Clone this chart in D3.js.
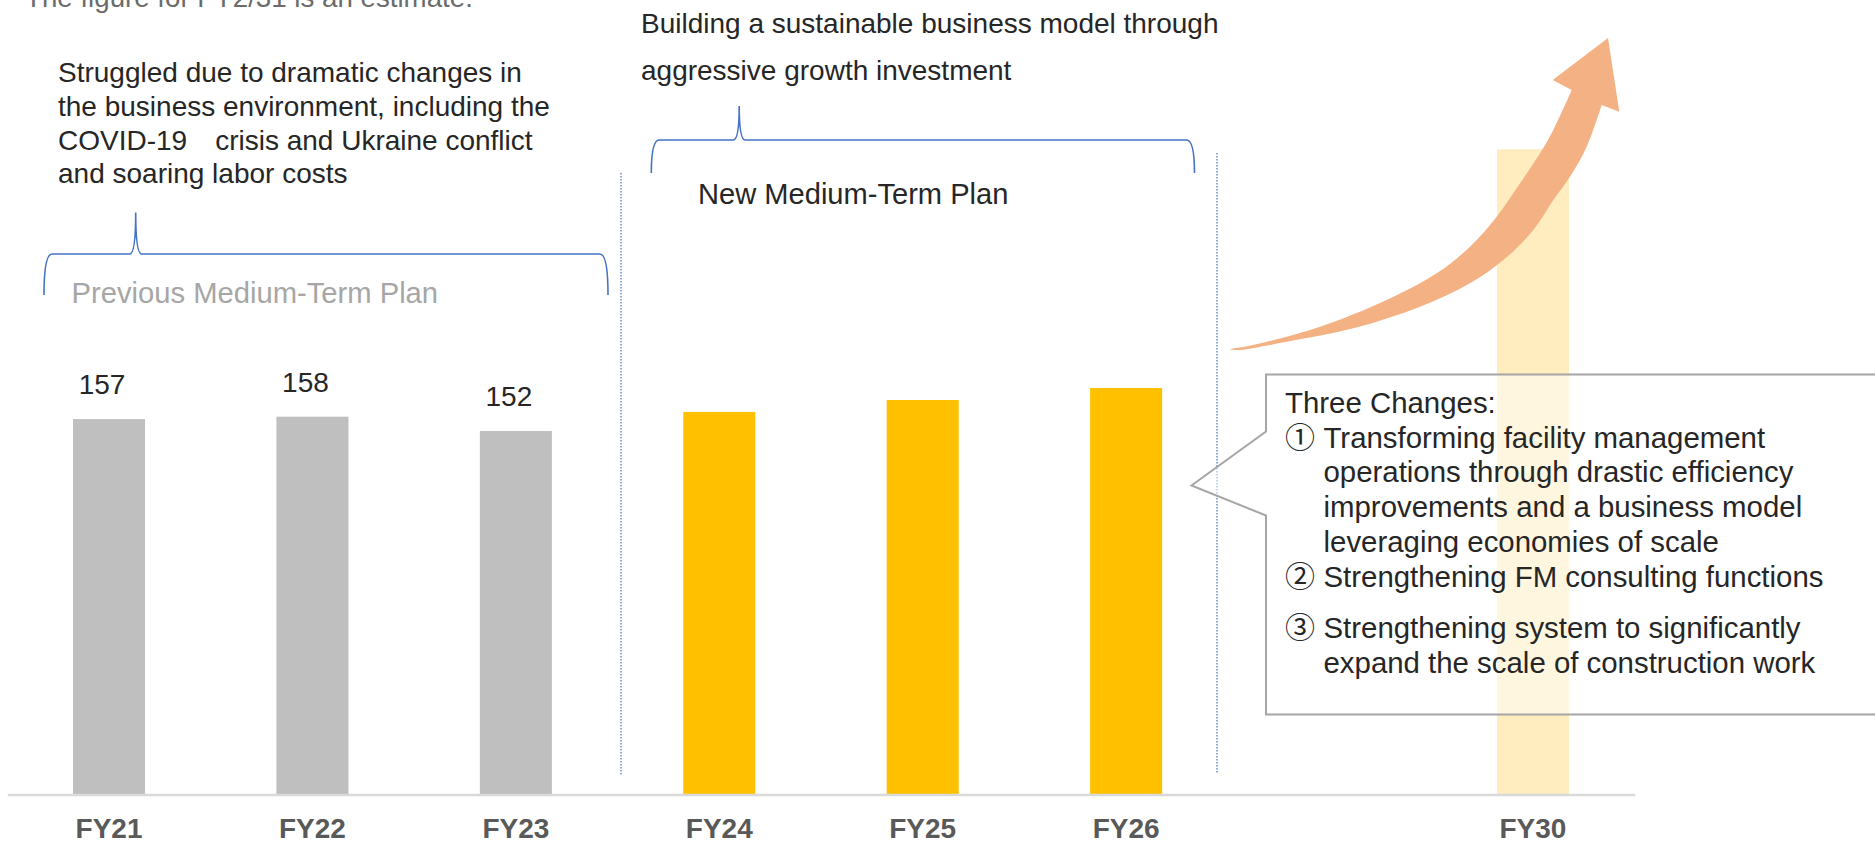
<!DOCTYPE html>
<html><head><meta charset="utf-8">
<script src="https://cdn.jsdelivr.net/npm/d3@7"></script>
<style>
body{margin:0;background:#fff;overflow:hidden;}
svg text{font-family:"Liberation Sans",Arial,"Noto Sans CJK JP",sans-serif;}
</style></head><body>
<svg id="c" width="1875" height="842"></svg>
<script>
// ---- data ----
const slots = ["FY21","FY22","FY23","FY24","FY25","FY26","_gap","FY30"];
const years = ["FY21","FY22","FY23","FY24","FY25","FY26","FY30"];
const values = [157,158,152,160,165,170,270];
const valueLabels = ["157","158","152","","","",""];
const phases = ["prev","prev","prev","new","new","new","target"];
const phaseColors = {prev:"#bfbfbf", new:"#ffc000", target:"#ffedc0"};

const svg = d3.select("#c");

const x = d3.scaleBand().domain(slots).range([7.3, 1634.7]).paddingInner(0.646).paddingOuter(0.323);
const y = d3.scaleLinear().domain([0, 300]).range([794, 794 - 300*2.388]);

// bars
const data = years.map((d,i)=>({year:d, value:values[i], label:valueLabels[i], phase:phases[i]}));
svg.append("g").selectAll("rect").data(data).join("rect")
  .attr("x", d=>x(d.year)).attr("width", x.bandwidth())
  .attr("y", d=>y(d.value)).attr("height", d=>y(0)-y(d.value))
  .attr("fill", d=>phaseColors[d.phase]);

// value labels
svg.append("g").selectAll("text").data(data.filter(d=>d.label)).join("text")
  .attr("x", d=>x(d.year)+x.bandwidth()/2-7).attr("y", d=>y(d.value)-25)
  .attr("text-anchor","middle").attr("font-size",28).attr("fill","#262626")
  .text(d=>d.label);

// axis
const ax = svg.append("g").attr("transform","translate(0,794.5)")
  .call(d3.axisBottom(x).tickSize(0).tickSizeOuter(0).tickPadding(24).tickFormat(d=>d==="_gap"?"":d));
ax.select(".domain").attr("stroke","#d9d9d9").attr("stroke-width",2.5);
ax.selectAll("text").attr("font-size",28).attr("font-weight","bold").attr("fill","#595959")
  .attr("font-family",'"Liberation Sans",Arial,sans-serif');

// dotted separators
[[621,173,775],[1217,153,773]].forEach(([lx,y1,y2])=>{
  svg.append("line").attr("x1",lx).attr("x2",lx).attr("y1",y1).attr("y2",y2)
    .attr("stroke","#4472c4").attr("stroke-width",1.2).attr("stroke-dasharray","1.5,1.5");
});

// braces
function brace(x0,x1,xt,yh,ytip,yb){
  return `M${x0},${yb} Q${x0},${yh} ${x0+8},${yh} L${xt-6},${yh} Q${xt},${yh} ${xt},${ytip} Q${xt},${yh} ${xt+6},${yh} L${x1-8},${yh} Q${x1},${yh} ${x1},${yb}`;
}
svg.append("path").attr("d",brace(44,608,135.7,254,212.5,295)).attr("fill","none").attr("stroke","#4472c4").attr("stroke-width",1.6);
svg.append("path").attr("d",brace(651.3,1194.5,739.2,140,106,173)).attr("fill","none").attr("stroke","#4472c4").attr("stroke-width",1.6);

// arrow
const upper = [[1230,349],[1253,345],[1320,326.7],[1386.7,300],[1436.7,273.3],[1470,246.7],[1496.7,216.7],[1520,183.3],[1540,153.3],[1553.3,130],[1571.7,90]];
const head = [[1552.7,80],[1608,38],[1619.3,111.7]];
const lower = [[1601.7,105],[1586.7,146.7],[1570,176.7],[1553.3,200],[1533.3,230],[1503.3,260],[1470,283.3],[1420,306.7],[1353.3,328.3],[1286.7,341.7],[1240,350],[1230,349.5]];
const lc = d3.line().curve(d3.curveCatmullRom);
let ad = lc(upper) + head.map(p=>`L${p[0]},${p[1]}`).join("") + lc(lower).replace(/^M/,"L") + "Z";
svg.append("path").attr("d",ad).attr("fill","#f4b183");

// callout box
svg.append("path").attr("d","M1266,374.5 H1890 V714.5 H1266 V515.5 L1191.5,485.5 L1266,431.5 Z")
  .attr("fill","#ffffff").attr("fill-opacity",0.5).attr("stroke","#a6a6a6").attr("stroke-width",2);

// texts
function txt(s,tx,ty,opts={}){
  const t = svg.append("text").attr("x",tx).attr("y",ty).attr("font-size",opts.size||28)
    .attr("fill",opts.fill||"#262626").style("white-space","pre").text(s);
  if(opts.anchor) t.attr("text-anchor",opts.anchor);
  return t;
}
txt("The figure for FY2/31 is an estimate.",25,7,{fill:"#6b6b6b",size:27.7});
const leftNote = ["Struggled due to dramatic changes in","the business environment, including the","COVID-19\u3000crisis and Ukraine conflict","and soaring labor costs"];
leftNote.forEach((s,i)=>txt(s,58,82+i*33.8));
txt("Previous Medium-Term Plan",71.5,303,{fill:"#a6a6a6",size:29.2});
txt("Building a sustainable business model through",641,33);
txt("aggressive growth investment",641,79.5);
txt("New Medium-Term Plan",698,204,{size:29.1});

const cs = 29.4;
const cx0 = 1285, cx1 = 1323.5;
txt("Three Changes:",cx0,413,{size:cs});
txt("\u2460",cx0,448,{size:30});
txt("Transforming facility management",cx1,448,{size:cs});
txt("operations through drastic efficiency",cx1,481.5,{size:cs});
txt("improvements and a business model",cx1,516.5,{size:cs});
txt("leveraging economies of scale",cx1,551.5,{size:cs});
txt("\u2461",cx0,587,{size:30});
txt("Strengthening FM consulting functions",cx1,587,{size:cs});
txt("\u2462",cx0,638,{size:30});
txt("Strengthening system to significantly",cx1,638,{size:cs});
txt("expand the scale of construction work",cx1,673,{size:cs});
</script>
</body></html>
